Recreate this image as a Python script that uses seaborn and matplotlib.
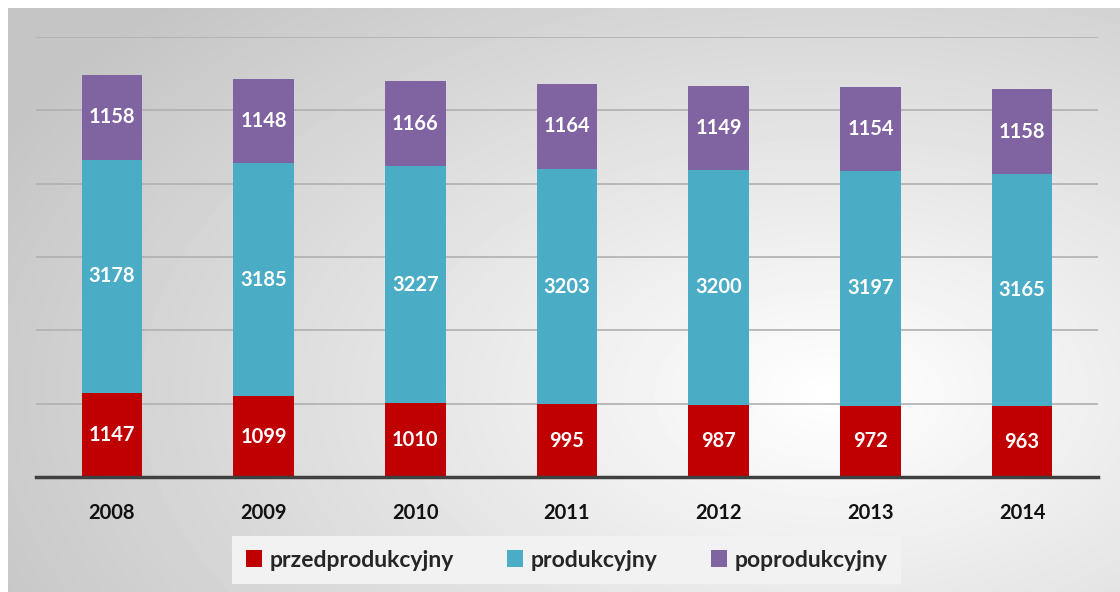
import matplotlib
matplotlib.use("Agg")
import matplotlib.pyplot as plt
import seaborn as sns
import pandas as pd
import numpy as np
from matplotlib.patches import Patch

years = ["2008", "2009", "2010", "2011", "2012", "2013", "2014"]
przedprodukcyjny = [1147, 1099, 1010, 995, 987, 972, 963]
produkcyjny = [3178, 3185, 3227, 3203, 3200, 3197, 3165]
poprodukcyjny = [1158, 1148, 1166, 1164, 1149, 1154, 1158]

series_names = ["przedprodukcyjny", "produkcyjny", "poprodukcyjny"]
colors = ["#C00000", "#4BACC6", "#8064A2"]

sns.set_style("white")
plt.rcParams["font.family"] = ["Lato", "DejaVu Sans"]

df = pd.DataFrame({
    "rok": years,
    "przedprodukcyjny": przedprodukcyjny,
    "produkcyjny": produkcyjny,
    "poprodukcyjny": poprodukcyjny,
})

fig = plt.figure(figsize=(11.2, 5.92), dpi=100)

# radial grey background
bg = fig.add_axes([8 / 1120, 0, 1112 / 1120, 584 / 592], zorder=0)
h, w = 584, 1112
yy, xx = np.mgrid[0:h, 0:w]
d = np.sqrt(((xx - 0.74 * w) / (0.85 * w)) ** 2 + ((yy - 0.66 * h) / (0.95 * h)) ** 2)
shade = 1.0 - 0.23 * np.clip(d, 0, 1)
bg.imshow(shade, cmap="gray", vmin=0, vmax=1, aspect="auto", interpolation="bilinear")
bg.axis("off")

ax = fig.add_axes([36 / 1120, 1 - 477 / 592, 1062 / 1120, 440 / 592], zorder=1)
ax.patch.set_alpha(0)

bottom = np.zeros(len(years))
for name, col in zip(series_names, colors):
    sns.barplot(data=df, x="rok", y=name, color=col, saturation=1, width=0.4,
                bottom=bottom, errorbar=None, ax=ax, zorder=3,
                edgecolor="none", linewidth=0)
    bottom = bottom + df[name].to_numpy()

for cont in ax.containers:
    ax.bar_label(cont, label_type="center", color="white", fontsize=14.5,
                 fontweight="bold")

ax.set_ylim(0, 6000)
ax.set_xlim(-0.5, len(years) - 0.5)
ax.set_yticks(range(0, 7000, 1000))
ax.yaxis.grid(True, color="#b0b0b0", linewidth=1.2, zorder=0)
ax.set_axisbelow(True)
ax.tick_params(axis="y", length=0, labelleft=False)
ax.set_xticks(range(len(years)))
ax.set_xticklabels(years, fontsize=14.5, fontweight="bold", color="#111111")
ax.tick_params(axis="x", length=0, pad=19)
ax.set_xlabel("")
ax.set_ylabel("")
for s in ["top", "right", "left"]:
    ax.spines[s].set_visible(False)
ax.spines["bottom"].set_color("#404040")
ax.spines["bottom"].set_linewidth(2.5)
ax.spines["bottom"].set_zorder(5)

handles = [Patch(facecolor=c, edgecolor="none") for c in colors]
leg = fig.legend(handles, series_names, loc="center", bbox_to_anchor=(0.506, 0.054),
                 ncol=3, frameon=True, fancybox=False, facecolor="#f2f2f2",
                 edgecolor="none", framealpha=1, handlelength=0.7, handleheight=0.7,
                 handletextpad=0.35, columnspacing=2.3, borderpad=0.6,
                 borderaxespad=0, prop={"weight": "bold", "size": 16.5})

fig.savefig("out.png", dpi=100)
